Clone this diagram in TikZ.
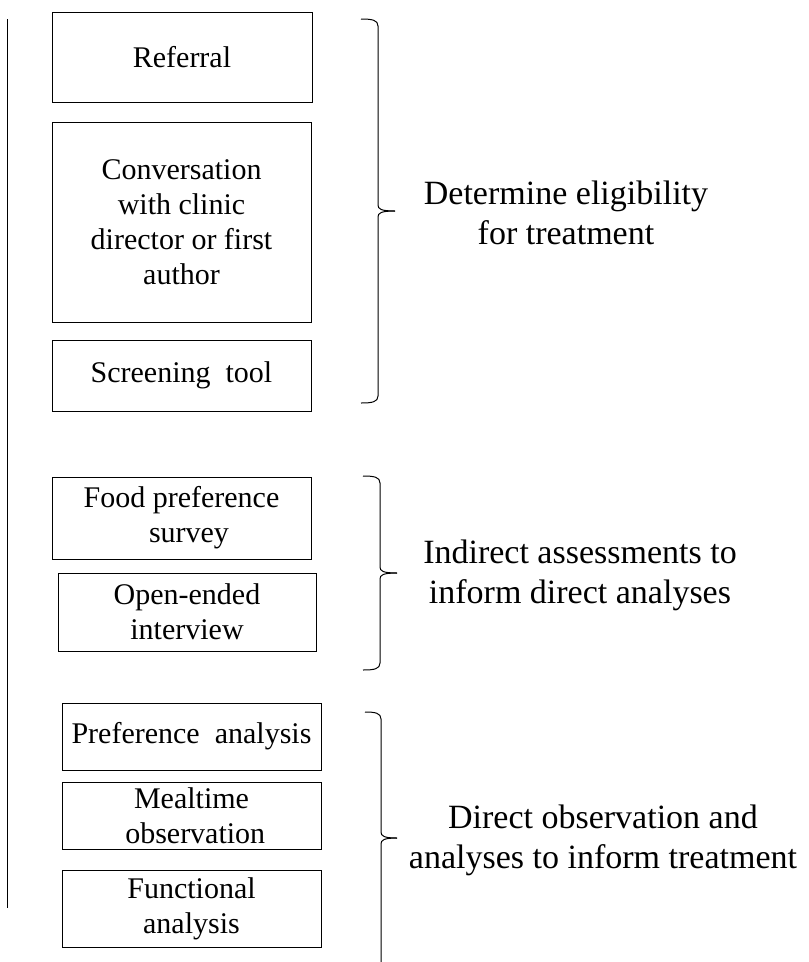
\documentclass[tikz,border=0pt]{standalone}
\usepackage{fontspec}
\setmainfont{Liberation Serif}
\newcommand{\wordbrace}[6]{%
  \draw[brc] ({#1},{#4}) .. controls ({#2-6},{#4}) and ({#2},{#4+1}) .. ({#2},{#4+7})
    -- ({#2},{#6-6}) .. controls ({#2},{#6-2}) and ({#2+3},{#6}) .. ({#3},{#6});
  \draw[brc] ({#3},{#6}) .. controls ({#2+3},{#6}) and ({#2},{#6+2}) .. ({#2},{#6+6})
    -- ({#2},{#5-7}) .. controls ({#2},{#5-1}) and ({#2-6},{#5}) .. ({#1},{#5});
}
\begin{document}
\begin{tikzpicture}[x=1pt,y=-1pt,
  box/.style={draw, line width=1pt, inner sep=0pt, align=center,
    font=\fontsize{30}{35}\selectfont},
  lbl/.style={align=center, inner sep=0pt, font=\fontsize{34}{40}\selectfont},
  brc/.style={line width=1pt},
  axis/.style={line width=1pt}]
\useasboundingbox (0,0) rectangle (809,962);
% left vertical line
\coordinate (lt) at (7.5,19);
\coordinate (lb) at (7.5,908);
\draw[axis] (lt) -- (lb);
% boxes
\node[box, minimum width=260pt, minimum height=90pt] (ref) at (182,57) {Referral};
\node[box, minimum width=259pt, minimum height=200pt] (conv) at (181.5,222)
  {Conversation\\with clinic\\director or first\\author};
\node[box, minimum width=259pt, minimum height=71pt] (scr) at (181.5,375.5) {Screening\ \ tool};
\node[box, minimum width=259pt, minimum height=82pt] (food) at (181.5,518) {Food preference\\\ \ survey};
\node[box, minimum width=258pt, minimum height=78pt] (open) at (187,612) {Open-ended\\interview};
\node[box, minimum width=259pt, minimum height=67pt] (pref) at (191.5,736.5) {Preference\ \ analysis};
\node[box, minimum width=259pt, minimum height=67pt] (meal) at (191.5,815.5) {Mealtime\\\ observation};
\node[box, minimum width=259pt, minimum height=77pt] (func) at (191.5,908.5) {Functional\\analysis};
% braces
\wordbrace{361}{378}{395}{19}{403}{211}
\wordbrace{363}{380}{397}{476}{670}{573}
\wordbrace{365}{381}{397}{712}{985}{838}
% labels
\node[lbl] (l1) at (566,213) {Determine eligibility\\for treatment};
\node[lbl] (l2) at (580,575) {Indirect assessments to\\inform direct analyses};
\node[lbl] (l3) at (603,840) {Direct observation and\\analyses to inform treatment};
\end{tikzpicture}
\end{document}
